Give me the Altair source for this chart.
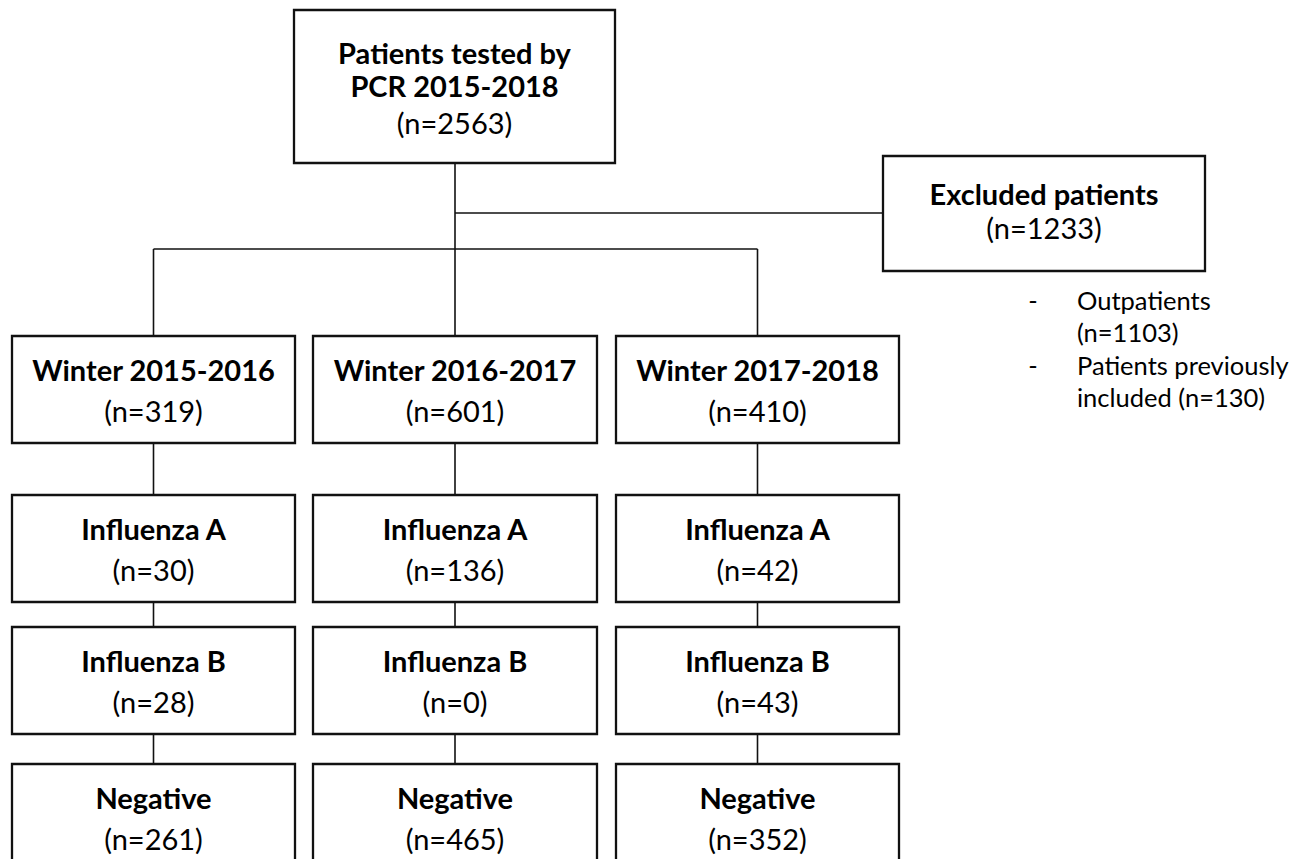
import altair as alt
import pandas as pd

# ---- content ----
total_title = ["Patients tested by", "PCR 2015-2018"]
total_n = 2563
excluded_title = "Excluded patients"
excluded_n = 1233
excluded_reasons = ["Outpatients", "(n=1103)", "Patients previously", "included (n=130)"]
reason_dash_rows = [0, 2]

seasons = ["Winter 2015-2016", "Winter 2016-2017", "Winter 2017-2018"]
season_n = [319, 601, 410]
row_titles = ["Influenza A", "Influenza B", "Negative"]
flu_a_n = [30, 136, 42]
flu_b_n = [28, 0, 43]
negative_n = [261, 465, 352]

# ---- layout (page pixel coordinates) ----
W, H = 1303, 867
M = 8
col_x0 = [12, 313, 616]
col_x1 = [295, 597, 899]
col_cx = [153.5, 455, 757.5]
row_y0 = [336, 495, 627, 764]
row_y1 = [443, 602, 734, 872]
top_box = (294, 615, 10, 163)
excl_box = (883, 1205, 156, 271)
branch_y = 249
excl_link_y = 213
reason_y = [302, 334, 367, 399]
dash_x = 1033
reason_x = 1077

BOLD = 29
REG = 29
SMALL = 25.5
FONT = "Lato"
INK = "#111111"

# boxes
boxes = [dict(x0=top_box[0], x1=top_box[1], y0=top_box[2], y1=top_box[3]),
         dict(x0=excl_box[0], x1=excl_box[1], y0=excl_box[2], y1=excl_box[3])]
for r in range(4):
    for c in range(3):
        boxes.append(dict(x0=col_x0[c], x1=col_x1[c], y0=row_y0[r], y1=row_y1[r]))
boxes_df = pd.DataFrame(boxes)

# connectors
lines = [
    dict(x=455, y=top_box[3], x2=455, y2=branch_y),
    dict(x=455, y=excl_link_y, x2=excl_box[0], y2=excl_link_y),
    dict(x=col_cx[0], y=branch_y, x2=col_cx[2], y2=branch_y),
]
for c in range(3):
    lines.append(dict(x=col_cx[c], y=branch_y, x2=col_cx[c], y2=row_y0[0]))
    for r in range(3):
        lines.append(dict(x=col_cx[c], y=row_y1[r], x2=col_cx[c], y2=row_y0[r + 1]))
lines_df = pd.DataFrame(lines)

# texts
bold_rows = [dict(x=454.5, y=55, t=total_title[0]),
             dict(x=454.5, y=88, t=total_title[1]),
             dict(x=1044, y=196, t=excluded_title)]
reg_rows = [dict(x=454.5, y=125, t=f"(n={total_n})"),
            dict(x=1044, y=230, t=f"(n={excluded_n})")]
row_counts = [season_n, flu_a_n, flu_b_n, negative_n]
row_names = [seasons] + [[t] * 3 for t in row_titles]
for r in range(4):
    for c in range(3):
        bold_rows.append(dict(x=col_cx[c], y=row_y0[r] + 36, t=row_names[r][c]))
        reg_rows.append(dict(x=col_cx[c], y=row_y0[r] + 77, t=f"(n={row_counts[r][c]})"))
bold_df = pd.DataFrame(bold_rows)
reg_df = pd.DataFrame(reg_rows)

small_rows = [dict(x=reason_x, y=reason_y[i], t=s) for i, s in enumerate(excluded_reasons)]
small_df = pd.DataFrame(small_rows)
dash_df = pd.DataFrame([dict(x=dash_x, y=reason_y[i], t="-") for i in reason_dash_rows])

xs = alt.Scale(domain=[M, W - M], nice=False, zero=False)
ys = alt.Scale(domain=[H - M, M], nice=False, zero=False)

def X(f="x"):
    return alt.X(f"{f}:Q", scale=xs, axis=None)

def Y(f="y"):
    return alt.Y(f"{f}:Q", scale=ys, axis=None)

rects = alt.Chart(boxes_df).mark_rect(fill="white", stroke=INK, strokeWidth=2.3, clip=True).encode(
    x=X("x0"), x2="x1:Q", y=Y("y0"), y2="y1:Q")

rules = alt.Chart(lines_df).mark_rule(color=INK, strokeWidth=1.6).encode(
    x=X("x"), y=Y("y"), x2="x2:Q", y2="y2:Q")

bold = alt.Chart(bold_df).mark_text(font=FONT, fontSize=BOLD, fontWeight="bold", color="black",
                                    align="center", baseline="middle").encode(
    x=X(), y=Y(), text="t:N")
reg = alt.Chart(reg_df).mark_text(font=FONT, fontSize=REG, color="black",
                                  align="center", baseline="middle").encode(
    x=X(), y=Y(), text="t:N")
small = alt.Chart(small_df).mark_text(font=FONT, fontSize=SMALL, color="black",
                                      align="left", baseline="middle").encode(
    x=X(), y=Y(), text="t:N")
dashes = alt.Chart(dash_df).mark_text(font=FONT, fontSize=SMALL, color="black",
                                      align="center", baseline="middle").encode(
    x=X(), y=Y(), text="t:N")

chart = alt.layer(rules, rects, bold, reg, small, dashes).properties(
    width=W - 2 * M, height=H - 2 * M, padding=0, background="white"
).configure_view(stroke="transparent", strokeWidth=0)

chart.save("out.html", embed_options={"renderer": "svg", "actions": False})
